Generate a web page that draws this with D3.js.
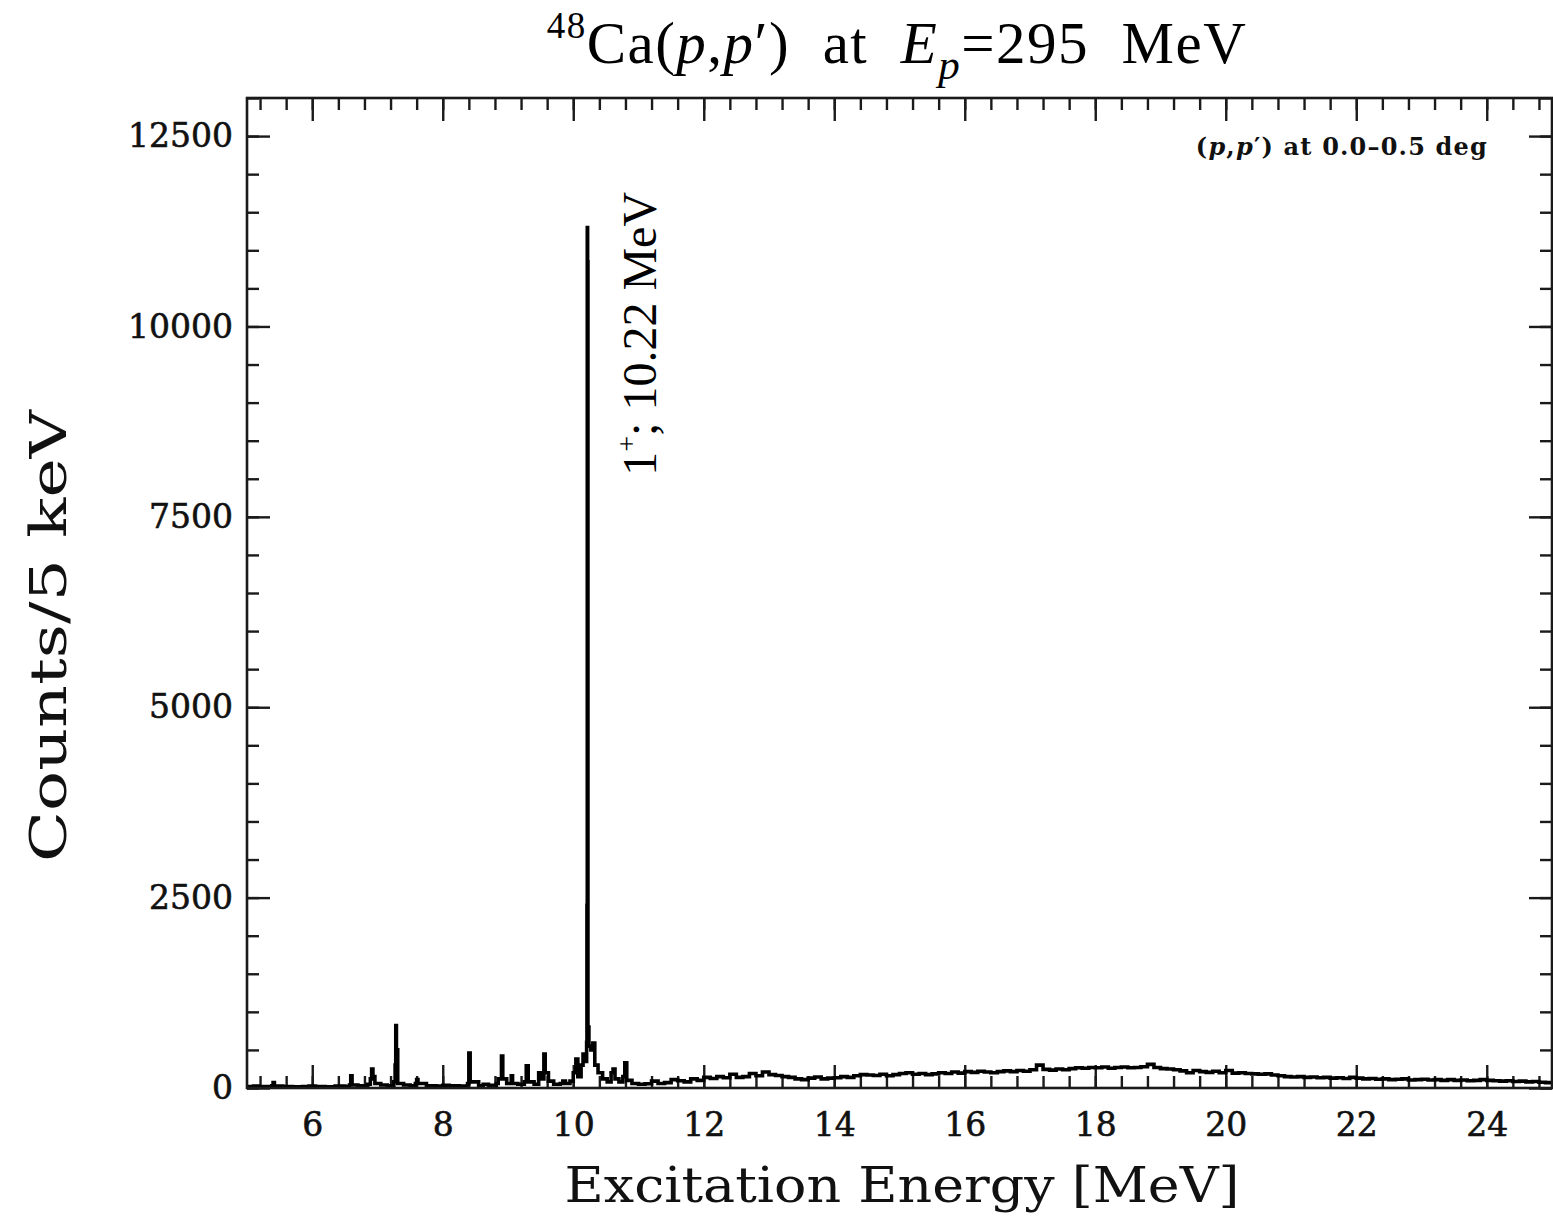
<!DOCTYPE html>
<html>
<head>
<meta charset="utf-8">
<script src="https://cdn.jsdelivr.net/npm/d3@7"></script>
<style>
  body { margin: 0; background: #fff; }
  text { white-space: pre; }
</style>
</head>
<body>
<svg id="chart"></svg>
<script>
// axis ranges and ticks
var xDomain = [5, 25],
    yDomain = [0, 13000],
    xMajor = [6, 8, 10, 12, 14, 16, 18, 20, 22, 24],
    yMajor = [0, 2500, 5000, 7500, 10000, 12500];

// discrete lines region, 5 - 11 MeV (energy in MeV, counts per 5 keV)
var lineE = [5.00, 5.10, 5.18, 5.25, 5.38, 5.40, 5.42, 5.55, 5.70, 5.85, 5.95, 6.05, 6.20, 6.35, 6.50,
             6.57, 6.59, 6.61, 6.70, 6.85, 6.89, 6.91, 6.93, 6.96, 7.05, 7.15, 7.25, 7.27, 7.28, 7.29,
             7.31, 7.40, 7.50, 7.58, 7.60, 7.62, 7.75, 7.90, 8.00, 8.10, 8.25, 8.38, 8.40, 8.42, 8.55,
             8.62, 8.70, 8.82, 8.85, 8.90, 8.92, 8.98, 9.05, 9.07, 9.15, 9.25, 9.28, 9.31, 9.40, 9.47,
             9.50, 9.55, 9.57, 9.62, 9.70, 9.80, 9.84, 9.88, 9.95, 10.00, 10.04, 10.07, 10.12, 10.15, 10.18,
             10.205, 10.21, 10.215, 10.22, 10.225, 10.24, 10.27, 10.30, 10.33, 10.38, 10.45, 10.52, 10.58, 10.61, 10.64,
             10.70, 10.76, 10.79, 10.82, 10.90, 11.00];
var lineC = [20, 25, 15, 20, 30, 70, 25, 20, 15, 20, 25, 20, 15, 25, 20,
             40, 160, 40, 30, 50, 120, 250, 150, 60, 40, 30, 80, 300, 820, 500,
             60, 40, 30, 60, 110, 60, 30, 25, 35, 30, 25, 60, 460, 80, 30,
             50, 35, 60, 120, 420, 120, 60, 160, 60, 50, 80, 290, 80, 50, 200,
             120, 445, 200, 90, 50, 60, 90, 60, 90, 200, 380, 150, 300, 445, 350,
             600, 2400, 11300, 10850, 800, 550, 500, 590, 300, 200, 120, 80, 200, 250, 120,
             80, 150, 330, 100, 60, 50];

// continuum region, 11.1 - 25 MeV
var contE = [11.1, 11.2, 11.3, 11.4, 11.5, 11.6, 11.7, 11.8, 11.9, 12.0, 12.1, 12.2, 12.3, 12.4, 12.5,
             12.6, 12.7, 12.8, 12.9, 13.0, 13.1, 13.2, 13.3, 13.4, 13.5, 13.6, 13.7, 13.8, 13.9, 14.0,
             14.1, 14.2, 14.3, 14.4, 14.5, 14.6, 14.7, 14.8, 14.9, 15.0, 15.1, 15.2, 15.3, 15.4, 15.5,
             15.6, 15.7, 15.8, 15.9, 16.0, 16.1, 16.2, 16.3, 16.4, 16.5, 16.6, 16.7, 16.8, 16.9, 17.0,
             17.1, 17.2, 17.3, 17.4, 17.5, 17.6, 17.7, 17.8, 17.9, 18.0, 18.1, 18.2, 18.3, 18.4, 18.5,
             18.6, 18.7, 18.8, 18.9, 19.0, 19.1, 19.2, 19.3, 19.4, 19.5, 19.6, 19.7, 19.8, 19.9, 20.0,
             20.1, 20.2, 20.3, 20.4, 20.5, 20.6, 20.7, 20.8, 20.9, 21.0, 21.1, 21.2, 21.3, 21.4, 21.5,
             21.6, 21.7, 21.8, 21.9, 22.0, 22.1, 22.2, 22.3, 22.4, 22.5, 22.6, 22.7, 22.8, 22.9, 23.0,
             23.1, 23.2, 23.3, 23.4, 23.5, 23.6, 23.7, 23.8, 23.9, 24.0, 24.1, 24.2, 24.3, 24.4, 24.5,
             24.6, 24.7, 24.8, 24.9, 25.0];
var contC = [55, 90, 60, 70, 110, 95, 80, 120, 100, 140, 125, 150, 135, 180, 140,
             150, 190, 160, 210, 175, 165, 150, 140, 120, 110, 130, 145, 120, 130, 135,
             150, 140, 160, 175, 170, 165, 180, 160, 175, 190, 200, 180, 190, 175, 185,
             200, 190, 210, 195, 215, 205, 220, 210, 200, 215, 225, 215, 230, 220, 240,
             300, 245, 235, 250, 240, 255, 265, 260, 270, 265, 275, 260, 270, 275, 265,
             270, 280, 310, 270, 255, 250, 240, 225, 200, 230, 215, 205, 220, 200, 230,
             195, 200, 190, 185, 180, 185, 170, 160, 150, 145, 150, 140, 145, 135, 140,
             130, 135, 125, 140, 130, 120, 125, 115, 120, 110, 115, 120, 105, 110, 115,
             105, 110, 100, 110, 100, 105, 95, 100, 110, 100, 95, 90, 95, 85, 90,
             80, 85, 75, 70, 65];

var width = 1553, height = 1219,
    margin = {top: 98, right: 1, bottom: 131, left: 247},
    w = width - margin.left - margin.right,
    h = height - margin.top - margin.bottom;

var svg = d3.select("#chart")
    .attr("width", width)
    .attr("height", height),
  g = svg.append("g").attr("transform", "translate(" + margin.left + "," + margin.top + ")");

var x = d3.scaleLinear().domain(xDomain).range([0, w]);
var y = d3.scaleLinear().domain(yDomain).range([h, 0]);

var xMinor = d3.range(13, 63).map(function(i) { return i * 0.4; }),
    yMinor = d3.range(0, 27).map(function(i) { return i * 500; });

var tickFont = "DejaVu Serif";

function styleAxis(sel) {
  sel.selectAll(".domain").remove();
  sel.selectAll("line").attr("stroke", "#1a1a1a").attr("stroke-width", 2.4);
  sel.selectAll("text").attr("font-family", tickFont).attr("font-size", 33)
    .attr("fill", "#111").attr("stroke", "#111").attr("stroke-width", 0.6);
}

// minor ticks, all four sides
g.append("g").attr("transform", "translate(0," + h + ")")
  .call(d3.axisBottom(x).tickValues(xMinor).tickSize(-12).tickSizeOuter(0).tickFormat(""))
  .call(styleAxis);
g.append("g")
  .call(d3.axisTop(x).tickValues(xMinor).tickSize(-12).tickSizeOuter(0).tickFormat(""))
  .call(styleAxis);
g.append("g")
  .call(d3.axisLeft(y).tickValues(yMinor).tickSize(-12).tickSizeOuter(0).tickFormat(""))
  .call(styleAxis);
g.append("g").attr("transform", "translate(" + w + ",0)")
  .call(d3.axisRight(y).tickValues(yMinor).tickSize(-12).tickSizeOuter(0).tickFormat(""))
  .call(styleAxis);

// major ticks
g.append("g").attr("transform", "translate(0," + h + ")")
  .call(d3.axisBottom(x).tickValues(xMajor).tickSize(-23).tickSizeOuter(0).tickPadding(25).tickFormat(d3.format("d")))
  .call(styleAxis);
g.append("g")
  .call(d3.axisTop(x).tickValues(xMajor).tickSize(-23).tickSizeOuter(0).tickFormat(""))
  .call(styleAxis);
g.append("g")
  .call(d3.axisLeft(y).tickValues(yMajor).tickSize(-23).tickSizeOuter(0).tickPadding(14).tickFormat(d3.format("d")))
  .call(styleAxis);
g.append("g").attr("transform", "translate(" + w + ",0)")
  .call(d3.axisRight(y).tickValues(yMajor).tickSize(-23).tickSizeOuter(0).tickFormat(""))
  .call(styleAxis);

// spectrum
var specE = lineE.concat(contE),
    specC = lineC.concat(contC),
    spectrum = specE.map(function(e, i) { return [e, specC[i]]; });

g.append("clipPath").attr("id", "plotclip")
  .append("rect").attr("x", 0).attr("y", 0).attr("width", w).attr("height", h);

var line = d3.line()
  .x(function(d) { return x(d[0]); })
  .y(function(d) { return y(d[1]); })
  .curve(d3.curveStepAfter);

g.append("path")
  .datum(spectrum)
  .attr("clip-path", "url(#plotclip)")
  .attr("fill", "none")
  .attr("stroke", "#000")
  .attr("stroke-width", 3.6)
  .attr("stroke-linejoin", "miter")
  .attr("d", line);

// frame
g.append("rect")
  .attr("width", w).attr("height", h)
  .attr("fill", "none").attr("stroke", "#1a1a1a").attr("stroke-width", 2.6);

// peak label
var lbl = g.append("text")
  .attr("transform", "translate(" + (x(10.22) + 68) + "," + y(8040) + ") rotate(-90)")
  .attr("font-family", "Liberation Serif")
  .attr("font-size", 48)
  .attr("fill", "#000");
lbl.append("tspan").text("1");
lbl.append("tspan").attr("font-size", 28).attr("dy", -20).text("+");
lbl.append("tspan").attr("dy", 20).text("; 10.22 MeV");

// angle note
var note = g.append("text")
  .attr("x", x(24.02)).attr("y", 57)
  .attr("text-anchor", "end")
  .attr("font-family", tickFont)
  .attr("font-weight", "bold")
  .attr("font-size", 24)
  .attr("letter-spacing", 1.2)
  .attr("fill", "#111");
note.append("tspan").text("(");
note.append("tspan").attr("font-style", "italic").text("p");
note.append("tspan").text(",");
note.append("tspan").attr("font-style", "italic").text("p");
note.append("tspan").text("\u2032) at 0.0\u20130.5 deg");

// title
var title = svg.append("text")
  .attr("x", 897).attr("y", 63)
  .attr("text-anchor", "middle")
  .attr("font-family", "Liberation Serif")
  .attr("font-size", 59)
  .attr("letter-spacing", 1.5)
  .attr("fill", "#000");
title.append("tspan").attr("font-size", 37).attr("dy", -25).text("48");
title.append("tspan").attr("dy", 25).text("Ca(");
title.append("tspan").attr("font-style", "italic").text("p");
title.append("tspan").text(",");
title.append("tspan").attr("font-style", "italic").text("p");
title.append("tspan").text("\u2032)  at  ");
title.append("tspan").attr("font-style", "italic").text("E");
title.append("tspan").attr("font-style", "italic").attr("font-size", 43).attr("dy", 16).text("p");
title.append("tspan").attr("dy", -16).text("=295  MeV");

// axis titles
svg.append("text")
  .attr("x", 902).attr("y", 1202)
  .attr("text-anchor", "middle")
  .attr("font-family", tickFont)
  .attr("font-size", 49)
  .attr("textLength", 675)
  .attr("lengthAdjust", "spacingAndGlyphs")
  .attr("fill", "#111")
  .text("Excitation Energy [MeV]");

svg.append("text")
  .attr("transform", "translate(66,636) rotate(-90)")
  .attr("text-anchor", "middle")
  .attr("font-family", tickFont)
  .attr("font-size", 50)
  .attr("textLength", 452)
  .attr("lengthAdjust", "spacingAndGlyphs")
  .attr("fill", "#111")
  .text("Counts/5 keV");
</script>
</body>
</html>
